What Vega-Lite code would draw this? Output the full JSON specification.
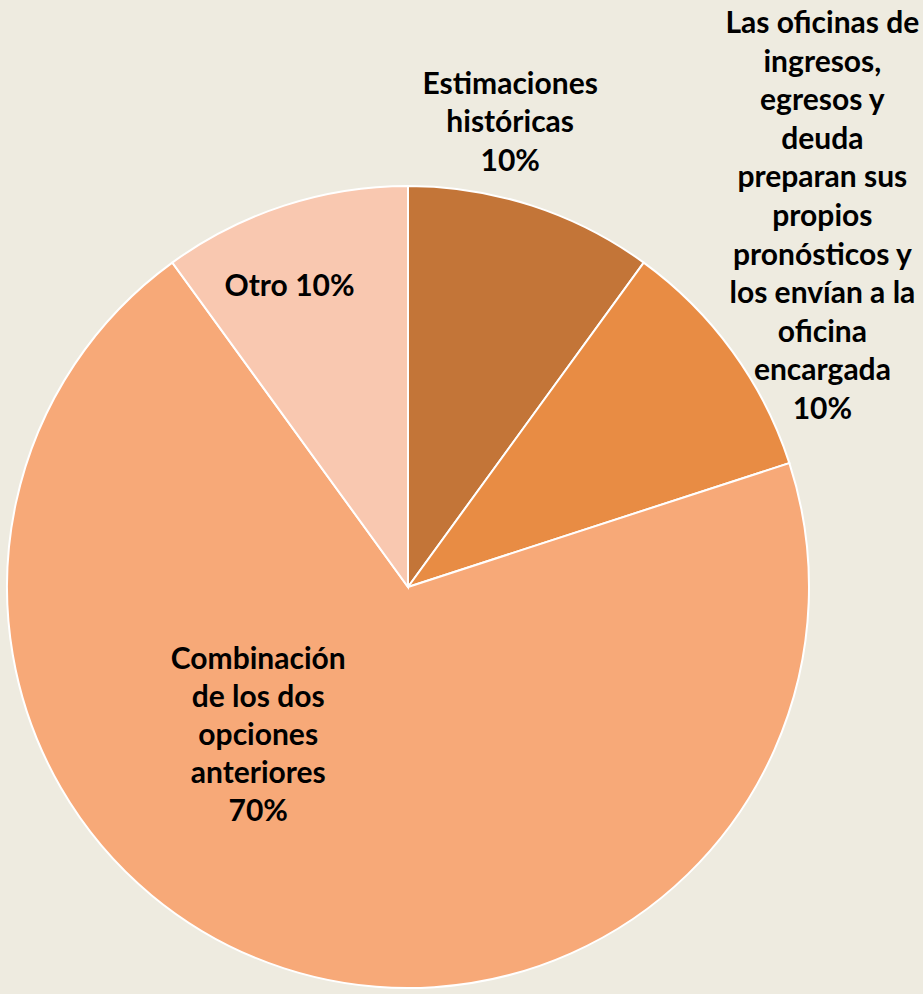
{
  "$schema": "https://vega.github.io/schema/vega-lite/v6.json",
  "width": 802,
  "height": 802,
  "autosize": {"type": "none"},
  "padding": {"left": 7, "top": 186, "right": 114, "bottom": 6},
  "background": "#EEEBE0",
  "config": {"view": {"stroke": null}},
  "data": {
    "values": [
      {"orden": 1, "categoria": "Estimaciones históricas", "valor": 10, "etiqueta": "Estimaciones\nhistóricas\n10%"},
      {"orden": 2, "categoria": "Las oficinas de ingresos, egresos y deuda preparan sus propios pronósticos y los envían a la oficina encargada", "valor": 10, "etiqueta": "Las oficinas de\ningresos,\negresos y\ndeuda\npreparan sus\npropios\npronósticos y\nlos envían a la\noficina\nencargada\n10%"},
      {"orden": 3, "categoria": "Combinación de los dos opciones anteriores", "valor": 70, "etiqueta": "Combinación\nde los dos\nopciones\nanteriores\n70%"},
      {"orden": 4, "categoria": "Otro", "valor": 10, "etiqueta": "Otro 10%"}
    ]
  },
  "encoding": {
    "theta": {"field": "valor", "type": "quantitative", "stack": true},
    "order": {"field": "orden", "type": "quantitative"}
  },
  "layer": [
    {
      "mark": {"type": "arc", "stroke": "#FFFFFF", "strokeWidth": 2},
      "encoding": {
        "color": {
          "field": "categoria",
          "type": "nominal",
          "legend": null,
          "scale": {
            "domain": ["Estimaciones históricas", "Las oficinas de ingresos, egresos y deuda preparan sus propios pronósticos y los envían a la oficina encargada", "Combinación de los dos opciones anteriores", "Otro"],
            "range": ["#C37538", "#E88C44", "#F7A978", "#F9C8B0"]
          }
        }
      }
    },
    {
      "mark": {"type": "text", "radius": 486, "dx": -48, "dy": -40, "font": "Lato", "fontWeight": "bold", "fontSize": 30, "lineBreak": "\n", "lineHeight": 38.6, "align": "center", "baseline": "middle", "color": "#000000"},
      "encoding": {"text": {"condition": {"test": "datum.orden === 1", "field": "etiqueta"}, "value": ""}}
    },
    {
      "mark": {"type": "text", "radius": 553, "dx": -33, "dy": -238, "font": "Lato", "fontWeight": "bold", "fontSize": 30, "lineBreak": "\n", "lineHeight": 38.6, "align": "center", "baseline": "middle", "color": "#000000"},
      "encoding": {"text": {"condition": {"test": "datum.orden === 2", "field": "etiqueta"}, "value": ""}}
    },
    {
      "mark": {"type": "text", "radius": 187, "dx": -92, "dy": -105, "font": "Lato", "fontWeight": "bold", "fontSize": 30, "lineBreak": "\n", "lineHeight": 38.0, "align": "center", "baseline": "middle", "color": "#000000"},
      "encoding": {"text": {"condition": {"test": "datum.orden === 3", "field": "etiqueta"}, "value": ""}}
    },
    {
      "mark": {"type": "text", "radius": 322, "dx": -19, "dy": 6, "font": "Lato", "fontWeight": "bold", "fontSize": 30, "lineBreak": "\n", "lineHeight": 38.6, "align": "center", "baseline": "middle", "color": "#000000"},
      "encoding": {"text": {"condition": {"test": "datum.orden === 4", "field": "etiqueta"}, "value": ""}}
    }
  ]
}
